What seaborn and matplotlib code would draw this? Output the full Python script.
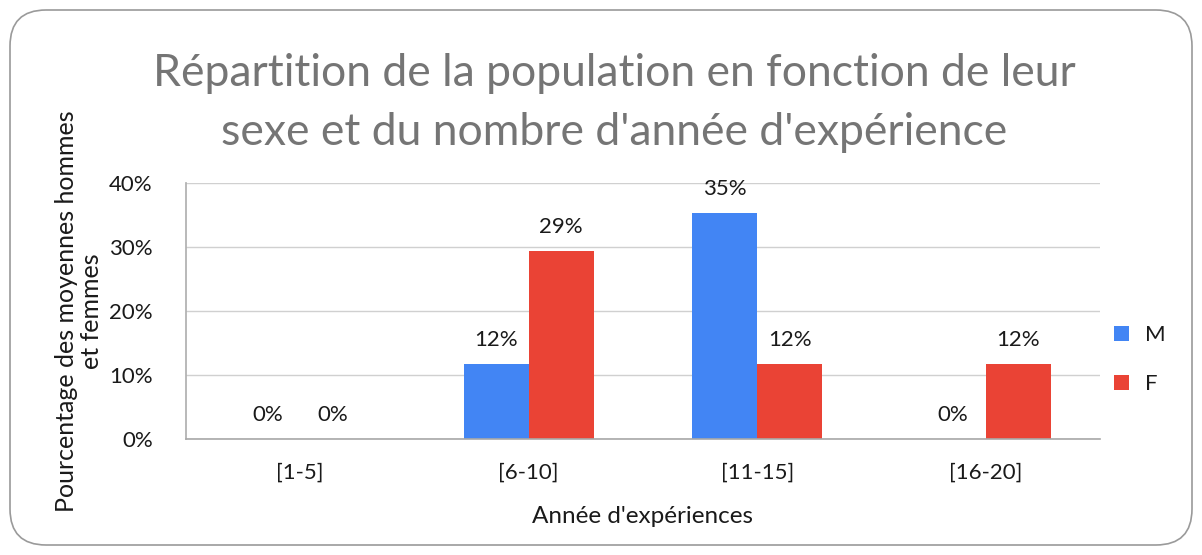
import matplotlib
matplotlib.use("Agg")
import matplotlib.pyplot as plt
import seaborn as sns
import pandas as pd
from matplotlib.patches import FancyBboxPatch

categories = ["[1-5]", "[6-10]", "[11-15]", "[16-20]"]
series_names = ["M", "F"]
values_M = [0.0, 11.76, 35.29, 0.0]
values_F = [0.0, 29.41, 11.76, 11.76]
bar_labels_M = ["0%", "12%", "35%", "0%"]
bar_labels_F = ["0%", "29%", "12%", "12%"]
yticks = [0, 10, 20, 30, 40]
ytick_labels = ["0%", "10%", "20%", "30%", "40%"]
title = "Répartition de la population en fonction de leur\nsexe et du nombre d'année d'expérience"
xlabel = "Année d'expériences"
ylabel = "Pourcentage des moyennes hommes\net femmes"
colors = {"M": "#4285F4", "F": "#EA4335"}

df = pd.DataFrame({
    "cat": categories * 2,
    "sexe": ["M"] * 4 + ["F"] * 4,
    "val": values_M + values_F,
})

sns.set_theme(style="white")
plt.rcParams["font.family"] = ["Lato", "DejaVu Sans"]

FS = 16
TXT = "#1a1a1a"

fig = plt.figure(figsize=(12.02, 5.55), dpi=100)
ax = fig.add_axes([186 / 1202, 1 - 439 / 555, 914 / 1202, 256 / 555])

sns.barplot(data=df, x="cat", y="val", hue="sexe", order=categories,
            hue_order=series_names, palette=colors, width=0.57,
            saturation=1, ax=ax, edgecolor="none")

ax.set_ylim(0, 40)
ax.set_xlim(-0.5, 3.5)
ax.set_yticks(yticks)
ax.set_yticklabels(ytick_labels, fontsize=FS, color=TXT)
ax.tick_params(axis="x", labelsize=FS, colors=TXT, length=0, pad=17)
ax.tick_params(axis="y", length=0, pad=24)
ax.yaxis.grid(True, color="#d0d0d0", linewidth=1)
ax.set_axisbelow(True)
for s in ["top", "right"]:
    ax.spines[s].set_visible(False)
ax.spines["left"].set_color("#b0b0b0")
ax.spines["bottom"].set_color("#a8a8a8")
ax.spines["bottom"].set_linewidth(1.2)

for cont, labs in zip(ax.containers, [bar_labels_M, bar_labels_F]):
    ax.bar_label(cont, labels=labs, padding=10, fontsize=FS, color=TXT)

ax.set_xlabel(xlabel, fontsize=17.5, color=TXT, labelpad=17)
ax.set_ylabel(ylabel, fontsize=18, color=TXT, labelpad=4, linespacing=1.15)

fig.text(614 / 1202, 1 - 103 / 555, title, ha="center", va="center",
         fontsize=32, color="#757575", linespacing=1.56)

leg = ax.legend(loc="center left", bbox_to_anchor=(0.993, 0.31), frameon=False,
                fontsize=FS, handlelength=0.7, handleheight=0.7,
                labelspacing=1.3, handletextpad=0.7)
for t in leg.get_texts():
    t.set_color(TXT)

border = FancyBboxPatch((10 / 1202, 10 / 555), 1182 / 1202, 535 / 555,
                        boxstyle="round,pad=0,rounding_size=0.03",
                        transform=fig.transFigure, fill=False,
                        edgecolor="#9a9a9a", linewidth=1.2,
                        mutation_aspect=1202 / 555)
fig.patches.append(border)

fig.savefig("out.png", dpi=100)
